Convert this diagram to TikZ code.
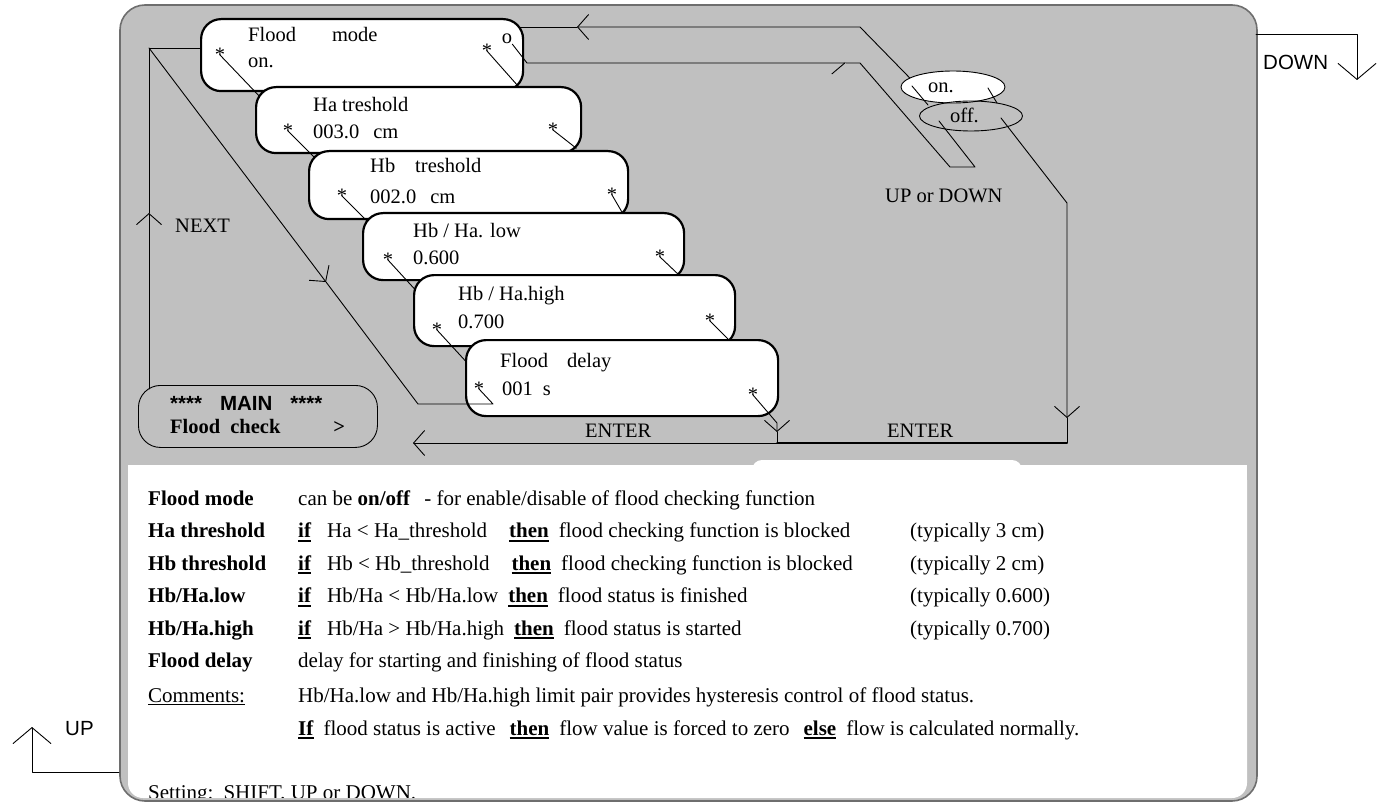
\documentclass[tikz,border=0pt]{standalone}
\usepackage{fontspec}
\setmainfont{Liberation Serif}
\newfontfamily\arialfont{Liberation Sans}
\usetikzlibrary{arrows.meta,shapes.geometric}
\definecolor{panelgray}{RGB}{192,192,192}
\definecolor{rimgray}{RGB}{110,110,110}
\newcommand\ubf[1]{\setbox0\hbox{\textbf{#1}}\rlap{\rule[-4pt]{\wd0}{1.8pt}}\box0}
\newcommand\rowtext[3]{\makebox[150pt][l]{#1}\makebox[612pt][l]{#2}#3}
\tikzset{
  every picture/.style={line join=round, line cap=round},
  every node/.style={font=\fontsize{20.5}{24}\selectfont, inner sep=0pt},
  thin/.style={line width=0.9pt},
  thick/.style={line width=1.5pt},
  menubox/.style={draw, line width=2.2pt, rounded corners=20pt, fill=white, anchor=north west},
  mainbox/.style={draw, line width=0.9pt, rounded corners=22pt, fill=panelgray, anchor=north west},
  pick/.style={draw, ellipse, line width=0.9pt},
  txt/.style={anchor=base west},
  note/.style={anchor=base west, font=\fontsize{21}{25}\selectfont},
  sans/.style={font=\fontsize{20.5}{24}\selectfont\arialfont},
  bigtip/.style={-{Straight Barb[length=16pt,width=38pt]}},
  halftip/.style={-{Straight Barb[harpoon,swap,length=13pt,width=22pt]}},
}
\begin{document}
\begin{tikzpicture}[x=1pt,y=-1pt,>={Straight Barb[length=11pt,width=25pt]}]
\useasboundingbox (0,0) rectangle (1379,805);
% frame and text panel
\draw[fill=panelgray,draw=rimgray,line width=1.6pt,rounded corners=25pt] (120,5) rectangle (1257,801);
\fill[white,rounded corners=15pt] (128,465) rectangle (1247,798);
\fill[white] (128,465) rectangle (1247,490);
\fill[white,rounded corners=10pt] (752,460) rectangle (1022,485);
% bends of the connectors
\coordinate (nxbot) at (149,389);
\coordinate (nxup) at (149,213);
\coordinate (nxtop) at (149,48);
\coordinate (nxmid) at (326,282);
\coordinate (nxlow) at (418,404);
\coordinate (nxend) at (493,404);
\coordinate (tp1) at (860,27);
\coordinate (tp2) at (577,27);
\coordinate (tp3) at (512,27);
\coordinate (dn1) at (527,63);
\coordinate (dn2) at (846,63);
\coordinate (dn3) at (860,63);
\coordinate (dn4) at (950,167);
\coordinate (dn5) at (975,167);
\coordinate (dn6) at (939,121);
\coordinate (onp1) at (912,86);
\coordinate (onp2) at (928,105);
\coordinate (onq1) at (988,88);
\coordinate (onq2) at (997,103);
\coordinate (ofp) at (1001,118);
\coordinate (en1) at (1067,203);
\coordinate (en2) at (1067,418);
\coordinate (en3) at (1067,443);
\coordinate (en4) at (777,443);
\coordinate (en5) at (413,443);
\coordinate (en6) at (777,423);
\coordinate (en7) at (777,432);
\coordinate (p2) at (263,100);
\coordinate (p3) at (320,163);
\coordinate (p4) at (372,226);
\coordinate (p5) at (421,296);
\coordinate (p6) at (471,367);
\coordinate (dw1) at (1256,34);
\coordinate (dw2) at (1357,34);
\coordinate (dw3) at (1357,80);
\coordinate (up1) at (119,772);
\coordinate (up2) at (32,772);
\coordinate (up3) at (32,727);
% on / off choice
\node[pick,fill=white,minimum width=104pt,minimum height=32pt] (on) at (953,87) {};
\node[txt] (ont) at (928,93) {on.};
\node[pick,minimum width=103pt,minimum height=30pt] (off) at (971,116) {};
\node[txt] (offt) at (950,123) {off.};
\draw[thin] (onp1) -- (onp2);
\draw[thin] (onq1) -- (onq2);
\draw[thin,->] (on.168) -- (tp1) -- (tp2);
\draw[thin] (tp2) -- (tp3);
\node[txt] (udl) at (885,203) {UP or DOWN};
% menu screens
\node[menubox,minimum width=322pt,minimum height=72pt] (fm) at (200,18) {};
\node[txt] (fm1) at (248,42) {Flood\hspace{36pt}mode};
\node[txt] (fm2) at (248,68) {on.};
\node (s1l) at (220,55) {*};
\node (s1r) at (487,51) {*};
\node (fmo) at (507,39) {o};
\draw[thin] (s1l.center) -- (p2);
\draw[thin] (s1r.center) -- ([shift={(-6,-6)}]fm.south east);
\draw[thin,halftip] (fmo.south east) -- (dn1) -- (dn2);
\draw[thin] (dn2) -- (dn3) -- (dn4) -- (dn5) -- (dn6);

\node[menubox,minimum width=325pt,minimum height=66pt] (ha) at (255,86) {};
\node[txt] (ha1) at (313,112) {Ha treshold};
\node[txt] (ha2) at (313,139) {003.0\hspace{14pt}cm};
\node (s2l) at (288,131) {*};
\node (s2r) at (553,130) {*};
\draw[thin] (s2l.center) -- (p3);
\draw[thin] (s2r.center) -- ([shift={(-6,-6)}]ha.south east);

\node[menubox,minimum width=319pt,minimum height=68pt] (hb) at (308,150) {};
\node[txt] (hb1) at (370,173) {Hb\hspace{20pt}treshold};
\node[txt] (hb2) at (370,204) {002.0\hspace{14pt}cm};
\node (s3l) at (342,196) {*};
\node (s3r) at (612,195) {*};
\draw[thin] (s3l.center) -- (p4);
\draw[thin] (s3r.center) -- ([shift={(-6,-6)}]hb.south east);

\node[menubox,minimum width=321pt,minimum height=67pt] (lo) at (362,212) {};
\node[txt] (lo1) at (413,237) {Hb / Ha. low};
\node[txt] (lo2) at (413,265) {0.600};
\node (s4l) at (388,260) {*};
\node (s4r) at (660,257) {*};
\draw[thin] (s4l.center) -- (p5);
\draw[thin] (s4r.center) -- ([shift={(-6,-6)}]lo.south east);

\node[menubox,minimum width=321pt,minimum height=71pt] (hi) at (413,274) {};
\node[txt] (hi1) at (458,300) {Hb / Ha.high};
\node[txt] (hi2) at (458,328) {0.700};
\node (s5l) at (437,330) {*};
\node (s5r) at (710,321) {*};
\draw[thin] (s5l.center) -- (p6);
\draw[thin] (s5r.center) -- ([shift={(-6,-6)}]hi.south east);

\node[menubox,minimum width=312pt,minimum height=76pt] (fd) at (465,339) {};
\node[txt] (fd1) at (500,367) {Flood\hspace{19pt}delay};
\node[txt] (fd2) at (502,395) {001\hspace{10pt}s};
\node (s6l) at (479,389) {*};
\node (s6r) at (753,395) {*};
% main menu and NEXT loop
\node[mainbox,minimum width=239pt,minimum height=62pt] (mn) at (138,385) {};
\node[txt] (mn1) at (170,410) {\arialfont\bfseries ****\hspace{18pt}MAIN\hspace{18pt}****};
\node[txt] (mn2) at (170,433) {\bfseries Flood\hspace{10pt}check\hspace{53pt}>};
\draw[thin,->] (nxbot) -- (nxup);
\draw[thin] (nxup) -- (nxtop) -- (fm.west |- nxtop);
\draw[thin,->] (nxtop) -- (nxmid);
\draw[thin] (nxmid) -- (nxlow) -- (nxend) -- (s6l.center);
\node[txt] (nxl) at (175,233) {NEXT};
% ENTER lines
\draw[thin,->] (ofp) -- (en1) -- (en2);
\draw[thin] (en2) -- (en3);
\draw[thick] (en3) -- (en4);
\draw[thin,->] (en4) -- (en5);
\draw[thin,->] (s6r.center) -- (en6) -- (en7);
\draw[thin] (en7) -- (en4);
\node[txt] (enl1) at (585,437) {ENTER};
\node[txt] (enl2) at (887,437) {ENTER};
% keys outside the frame
\draw[thin,bigtip] (dw1) -- (dw2) -- (dw3);
\node[txt,sans] (dwl) at (1263,70) {DOWN};
\draw[thin,bigtip] (up1) -- (up2) -- (up3);
\node[txt,sans] (upl) at (65,735) {UP};
% explanation
\node[note] (r1) at (148,505) {\rowtext{\textbf{Flood mode}}{can be \textbf{on/off}\hspace{14pt}- for enable/disable of flood checking function}{}};
\node[note] (r2) at (148,537.5) {\rowtext{\textbf{Ha threshold}}{\ubf{if}\hspace{16pt}Ha < Ha\_threshold\hspace{22pt}\ubf{then}\hspace{10pt}flood checking function is blocked}{(typically 3 cm)}};
\node[note] (r3) at (148,570) {\rowtext{\textbf{Hb threshold}}{\ubf{if}\hspace{16pt}Hb < Hb\_threshold\hspace{22pt}\ubf{then}\hspace{10pt}flood checking function is blocked}{(typically 2 cm)}};
\node[note] (r4) at (148,602.5) {\rowtext{\textbf{Hb/Ha.low}}{\ubf{if}\hspace{16pt}Hb/Ha < Hb/Ha.low\hspace{10pt}\ubf{then}\hspace{10pt}flood status is finished}{(typically 0.600)}};
\node[note] (r5) at (148,635) {\rowtext{\textbf{Hb/Ha.high}}{\ubf{if}\hspace{16pt}Hb/Ha > Hb/Ha.high\hspace{10pt}\ubf{then}\hspace{10pt}flood status is started}{(typically 0.700)}};
\node[note] (r6) at (148,667.5) {\rowtext{\textbf{Flood delay}}{delay for starting and finishing of flood status}{}};
\node[note] (r7) at (148,702) {\rowtext{\underline{Comments:}}{Hb/Ha.low and Hb/Ha.high limit pair provides hysteresis control of flood status.}{}};
\node[note] (r8) at (148,735) {\rowtext{}{\ubf{If}\hspace{10pt}flood status is active\hspace{14pt}\ubf{then}\hspace{10pt}flow value is forced to zero\hspace{14pt}\ubf{else}\hspace{10pt}flow is calculated normally.}{}};
\begin{scope}
\clip (128,465) rectangle (1247,797);
\node[note] (r9) at (148,799) {Setting:\hspace{10pt}SHIFT, UP or DOWN.};
\end{scope}
\end{tikzpicture}
\end{document}
